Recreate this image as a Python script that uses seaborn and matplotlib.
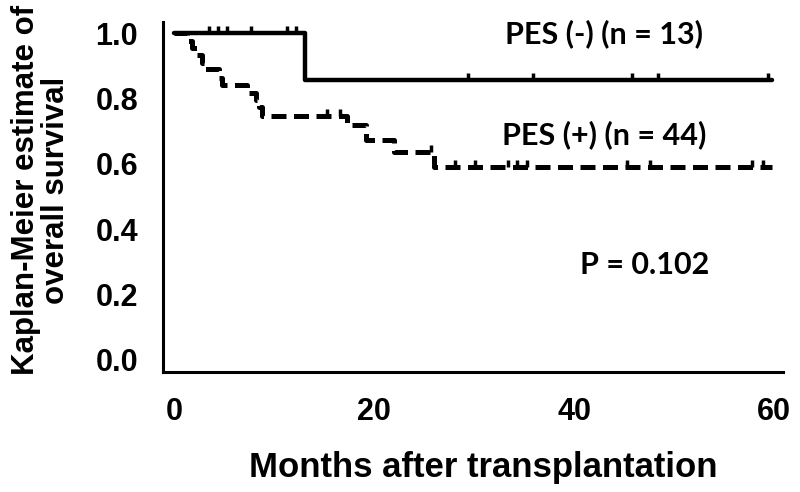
import pandas as pd
import matplotlib
matplotlib.use('Agg')
import matplotlib.pyplot as plt
import numpy as np
import seaborn as sns

# 生存曲線資料（由圖讀出的估計值）
neg_times = [0, 13.1, 59.8]
neg_surv = [1.0, 0.857, 0.857]
neg_cens_t = [3.5, 4.4, 5.3, 7.7, 11.3, 12.2, 29.4, 35.9, 45.8, 48.4, 59.4]

pos_times = [0, 1.3, 1.8, 2.3, 2.8, 3.0, 4.5, 4.8, 7.3, 8.2, 8.5, 8.8, 17.3, 19.2, 22.0, 26.0, 59.8]
pos_surv = [1.0, 0.977, 0.955, 0.932, 0.909, 0.89, 0.864, 0.841, 0.818, 0.795, 0.773, 0.746,
            0.719, 0.674, 0.635, 0.59, 0.59]
pos_cens_t = [15.3, 16.6, 25.7, 28.1, 30.1, 33.4, 34.3, 35.3, 45.3, 47.6, 57.8, 58.9]

x_ticks = [0, 20, 40, 60]
y_ticks = [0.0, 0.2, 0.4, 0.6, 0.8, 1.0]


def step_value(times, surv, t):
    # 找出 t 時間點的存活率
    idx = np.searchsorted(times, t, side='right') - 1
    return surv[idx]


sns.set_style('white')
plt.rcParams['font.family'] = ['Liberation Sans', 'DejaVu Sans']
# 文字改成純黑
plt.rcParams['text.color'] = 'black'
plt.rcParams['axes.labelcolor'] = 'black'
plt.rcParams['xtick.color'] = 'black'
plt.rcParams['ytick.color'] = 'black'

fig = plt.figure(figsize=(8, 4.92), dpi=100)
ax = fig.add_axes([0.204, 0.244, 0.775, 0.711])

neg_df = pd.DataFrame({'t': neg_times, 's': neg_surv})
pos_df = pd.DataFrame({'t': pos_times, 's': pos_surv})

sns.lineplot(data=neg_df, x='t', y='s', ax=ax, color='black', linewidth=3.2,
             drawstyle='steps-post', estimator=None, sort=False)
sns.lineplot(data=pos_df, x='t', y='s', ax=ax, color='black', linewidth=3.6,
             drawstyle='steps-post', estimator=None, sort=False, linestyle=(0, (3, 1.5)))

# 設限標記
neg_cy = [step_value(neg_times, neg_surv, t) for t in neg_cens_t]
pos_cy = [step_value(pos_times, pos_surv, t) for t in pos_cens_t]
ax.plot(neg_cens_t, neg_cy, linestyle='none', marker=2, markersize=5, mew=2.5, color='black')
ax.plot(pos_cens_t, pos_cy, linestyle='none', marker=2, markersize=5, mew=2.5, color='black')

ax.set_xlim(-1.1, 60.9)
ax.set_ylim(-0.037, 1.034)
ax.set_xticks(x_ticks)
ax.set_yticks(y_ticks)
ax.set_xticklabels([str(v) for v in x_ticks], fontsize=22, fontweight='bold')
ax.set_yticklabels([f'{v:.1f}' for v in y_ticks], fontsize=22, fontweight='bold')
ax.tick_params(axis='x', direction='out', length=5, width=2, color='black', pad=13)
ax.tick_params(axis='y', direction='out', length=4, width=2, color='black', pad=14)

for side in ['top', 'right']:
    ax.spines[side].set_visible(False)
for side in ['left', 'bottom']:
    ax.spines[side].set_linewidth(2.2)
    ax.spines[side].set_color('black')

ax.set_xlabel('Months after transplantation', fontsize=25, fontweight='bold')
ax.set_ylabel('Kaplan-Meier estimate of\noverall survival', fontsize=22.5, fontweight='bold',
              linespacing=1.0)
ax.xaxis.set_label_coords(0.516, -0.225)
ax.yaxis.set_label_coords(-0.148, 0.52)

ax.text(43, 1.0, 'PES (-) (n = 13)', fontsize=22, fontweight='bold', family=['Lato', 'DejaVu Sans'],
        ha='center', va='center')
ax.text(43, 0.69, 'PES (+) (n = 44)', fontsize=22, fontweight='bold', family=['Lato', 'DejaVu Sans'],
        ha='center', va='center')
ax.text(47, 0.29, 'P = 0.102', fontsize=22, fontweight='bold', family=['Lato', 'DejaVu Sans'],
        ha='center', va='center')

fig.savefig('out.png', dpi=100)
